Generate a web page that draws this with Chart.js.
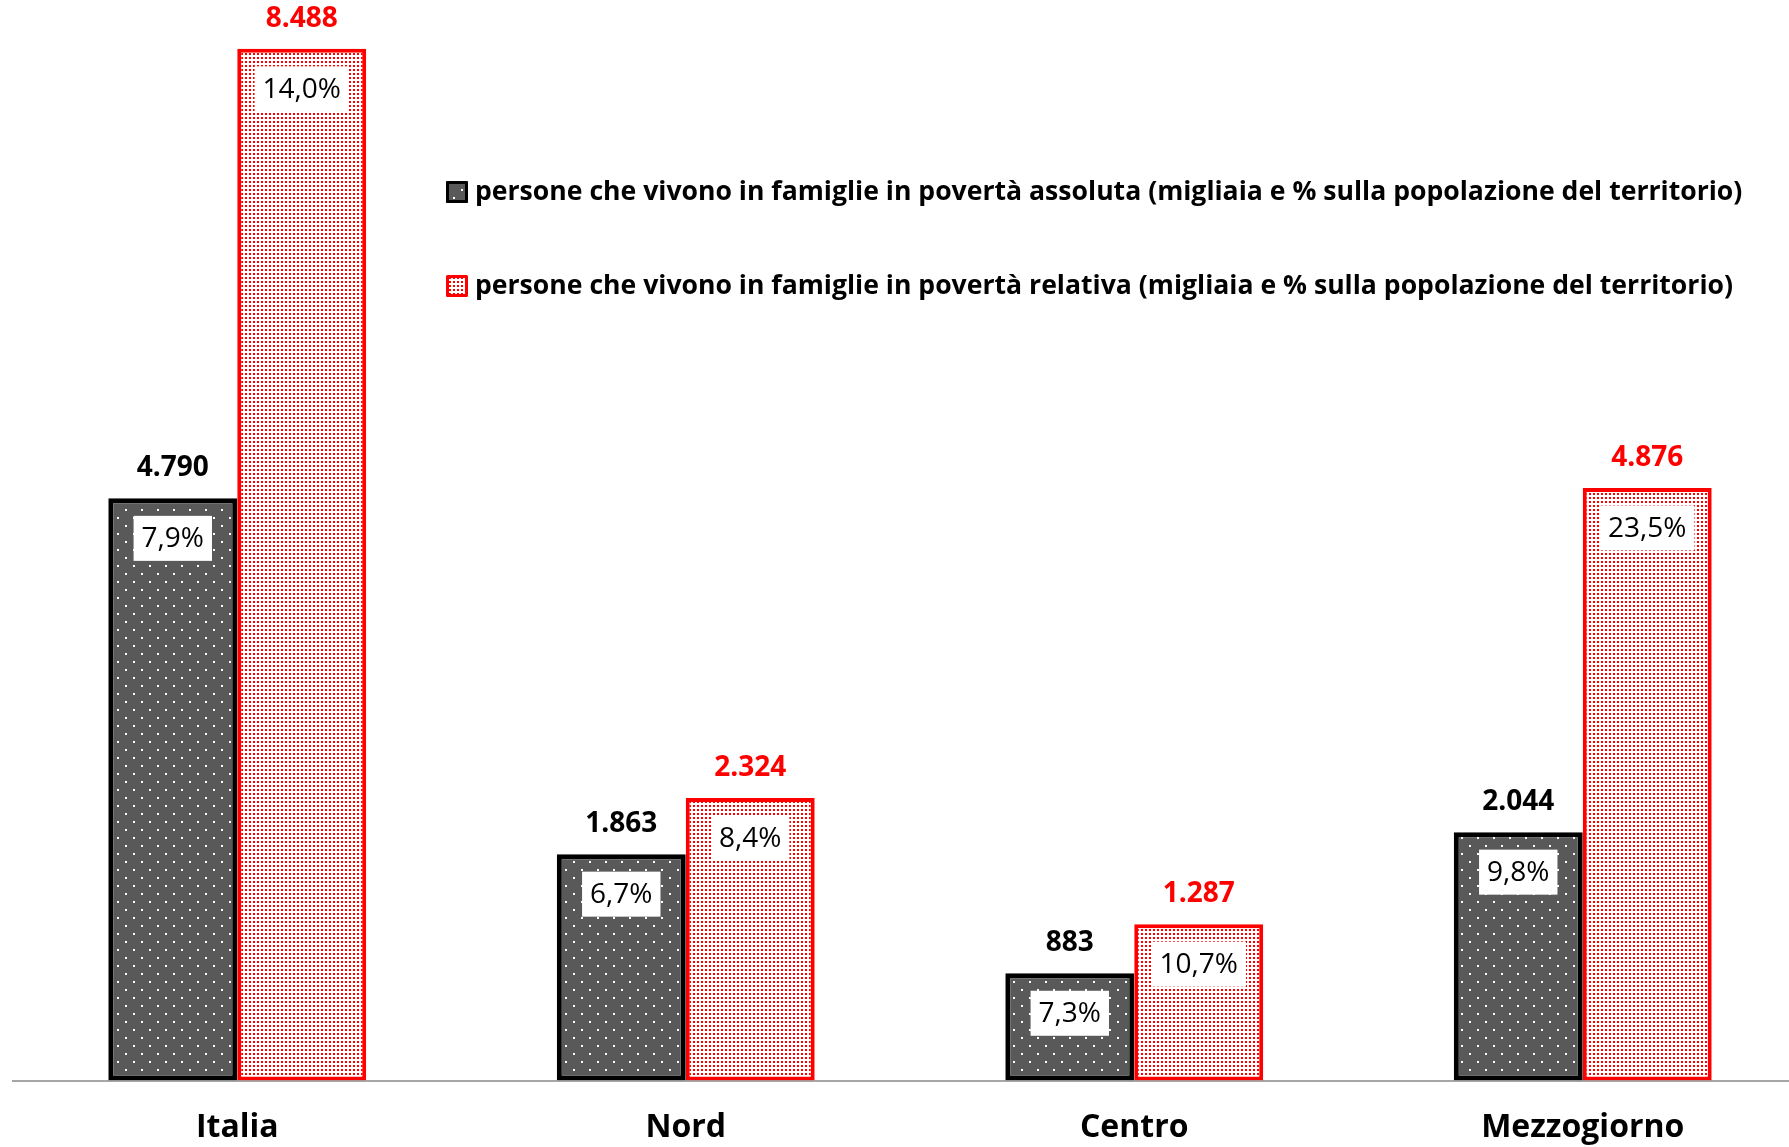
<!DOCTYPE html>
<html lang="it">
<head>
<meta charset="utf-8">
<title>Povertà assoluta e relativa</title>
<script src="https://cdn.jsdelivr.net/npm/chart.js@4.4.1/dist/chart.umd.min.js"></script>
<style>
  html, body { margin: 0; padding: 0; background: #fff; overflow: hidden; }
  #wrap { width: 1807px; height: 1176px; position: relative; }
</style>
</head>
<body>
<div id="wrap"><canvas id="chart"></canvas></div>
<script>
const categories = ["Italia", "Nord", "Centro", "Mezzogiorno"];
const assolutaValues = [4790, 1863, 883, 2044];
const relativaValues = [8488, 2324, 1287, 4876];
const assolutaPct = ["7,9%", "6,7%", "7,3%", "9,8%"];
const relativaPct = ["14,0%", "8,4%", "10,7%", "23,5%"];
const legendLabels = [
  "persone che vivono in famiglie in povertà assoluta (migliaia e % sulla popolazione del territorio)",
  "persone che vivono in famiglie in povertà relativa (migliaia e % sulla popolazione del territorio)",
];

const FONT = "'Open Sans', Lato, sans-serif";
const RED = "#ff0000";

function makePattern(size, bg, dot, dots) {
  const tile = document.createElement("canvas");
  tile.width = size;
  tile.height = size;
  const t = tile.getContext("2d");
  t.fillStyle = bg;
  t.fillRect(0, 0, size, size);
  t.fillStyle = dot;
  for (const [x, y] of dots) t.fillRect(x, y, 2, 2);
  return t.createPattern(tile, "repeat");
}

// grey with sparse white dots / white with dense red dots
const darkDots = makePattern(16, "#595959", "#ffffff", [[5, 5], [13, 13]]);
const redDots = makePattern(4, "#ffffff", RED, [[1, 1]]);

function fmtThousands(v) {
  return String(v).replace(/\B(?=(\d{3})+(?!\d))/g, ".");
}

const pctByDataset = [assolutaPct, relativaPct];
const valueColors = ["#000000", RED];

const barLabels = {
  id: "barLabels",
  afterDatasetsDraw(chart) {
    const ctx = chart.ctx;
    ctx.save();
    chart.data.datasets.forEach((ds, di) => {
      const meta = chart.getDatasetMeta(di);
      meta.data.forEach((bar, i) => {
        const top = bar.y;
        // value above the bar
        ctx.font = "bold 28px " + FONT;
        ctx.fillStyle = valueColors[di];
        ctx.textAlign = "center";
        ctx.textBaseline = "middle";
        ctx.fillText(fmtThousands(ds.data[i]), bar.x, top - 30);
        // percentage in a white box inside the bar
        const txt = pctByDataset[di][i];
        ctx.font = "28px " + FONT;
        const w = ctx.measureText(txt).width + 16;
        const h = 45;
        const cy = top + 40;
        ctx.fillStyle = "#ffffff";
        ctx.fillRect(bar.x - w / 2, cy - h / 2, w, h);
        ctx.fillStyle = "#000000";
        ctx.fillText(txt, bar.x, cy + 1);
      });
    });
    ctx.restore();
  },
};

const sideLegend = {
  id: "sideLegend",
  afterDraw(chart) {
    const ctx = chart.ctx;
    const rows = [192, 286];
    ctx.save();
    chart.data.datasets.forEach((ds, di) => {
      const y = rows[di];
      const x = 446;
      const s = 22;
      ctx.fillStyle = ds.backgroundColor;
      ctx.fillRect(x, y - s / 2, s, s);
      ctx.lineWidth = 3;
      ctx.lineJoin = "round";
      ctx.strokeStyle = ds.borderColor;
      ctx.strokeRect(x + 1.5, y - s / 2 + 1.5, s - 3, s - 3);
      ctx.font = "bold 26.6px " + FONT;
      ctx.fillStyle = "#000000";
      ctx.textAlign = "left";
      ctx.textBaseline = "middle";
      ctx.fillText(ds.label, 475, y);
    });
    ctx.restore();
  },
};

new Chart(document.getElementById("chart"), {
  type: "bar",
  data: {
    labels: categories,
    datasets: [
      {
        label: legendLabels[0],
        data: assolutaValues,
        backgroundColor: darkDots,
        borderColor: "#000000",
        borderWidth: 5,
        borderSkipped: false,
      },
      {
        label: legendLabels[1],
        data: relativaValues,
        backgroundColor: redDots,
        borderColor: RED,
        borderWidth: 4,
        borderSkipped: false,
      },
    ],
  },
  options: {
    responsive: true,
    maintainAspectRatio: false,
    animation: false,
    layout: { padding: { left: 13, right: 0, top: 0, bottom: 0 } },
    datasets: { bar: { categoryPercentage: 0.575, barPercentage: 1 } },
    scales: {
      x: {
        grid: { display: false, drawTicks: false },
        border: { display: true, color: "#a6a6a6", width: 2 },
        ticks: {
          color: "#000000",
          padding: 28.5,
          font: { family: FONT, size: 32, weight: "bold" },
        },
      },
      y: { display: false, min: 0, max: 8890 },
    },
    plugins: {
      legend: { display: false },
      tooltip: { enabled: false },
    },
  },
  plugins: [barLabels, sideLegend],
});
</script>
</body>
</html>
